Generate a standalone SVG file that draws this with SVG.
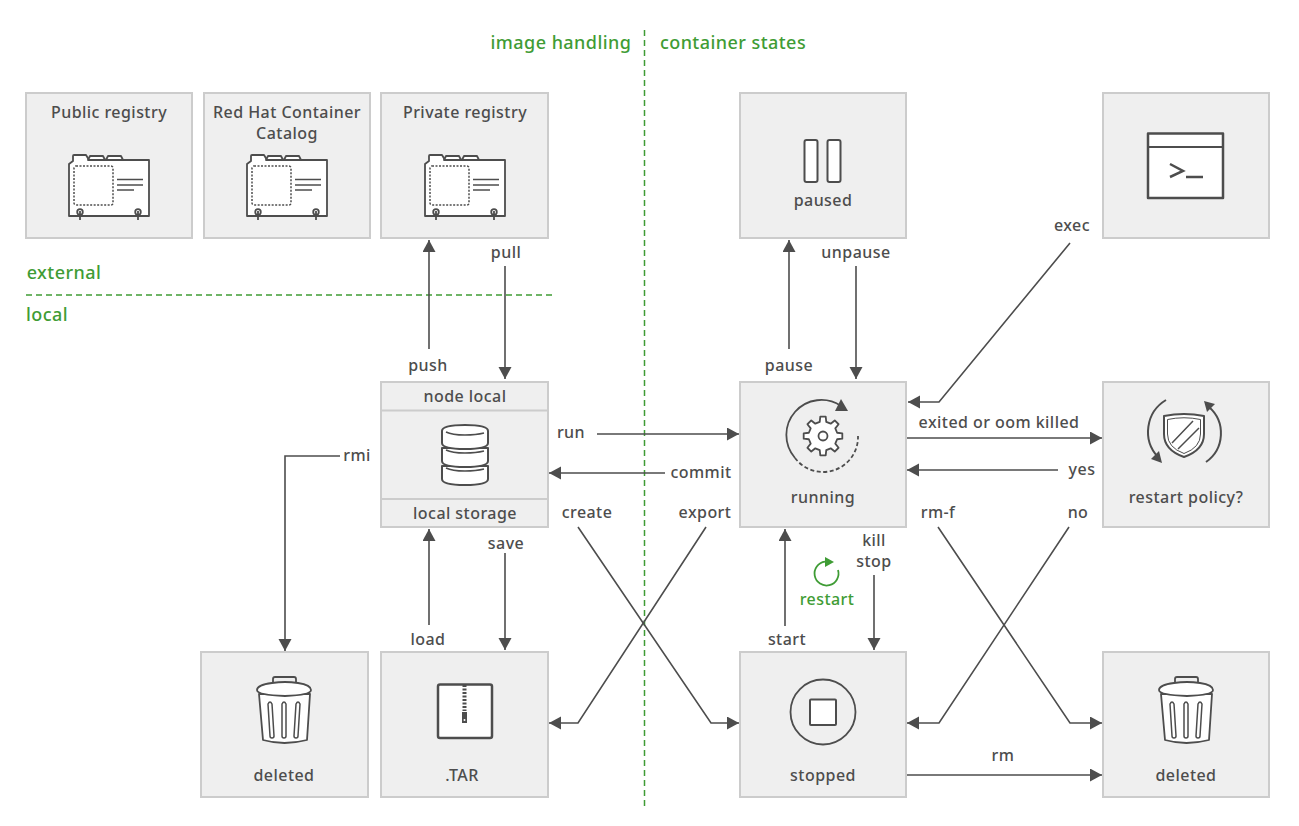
<svg xmlns="http://www.w3.org/2000/svg" width="1299" height="826" viewBox="0 0 1299 826">
<style>
text{font-family:"Noto Sans","Liberation Sans",sans-serif;font-size:16px;font-weight:500;fill:#4d4d4d;text-anchor:middle;letter-spacing:.45px}
.g{fill:#3f9c35;font-size:18px;font-weight:500}
.box{fill:#efefef;stroke:#ccc;stroke-width:2}
.c{fill:none;stroke:#4d4d4d;stroke-width:1.6}
.i{fill:#fff;stroke:#4d4d4d;stroke-width:2;stroke-linejoin:round}
.l{fill:none;stroke:#4d4d4d;stroke-width:2}
.d{fill:none;stroke:#3f9c35;stroke-width:1.5;stroke-dasharray:6 4}
</style>
<defs>
<marker id="a" markerUnits="userSpaceOnUse" markerWidth="14" markerHeight="14" refX="12" refY="6.5" orient="auto"><path d="M0 0L12 6.5L0 13Z" fill="#4d4d4d"/></marker>
<g id="reg">
<path class="i" d="M0 61V9L4 6V1Q4 0 5 0H17L20 5H80V61Z" style="stroke-width:1.800"/>
<path class="i" d="M19 5L21 1H34L36 5ZM37 5L39 1H52L54 5Z" style="stroke-width:1.800"/>
<rect x="5" y="11" width="39" height="39" rx="2" fill="#fff" stroke="#4d4d4d" stroke-width="1.500" stroke-dasharray="2 1.500"/>
<path class="l" d="M48 24.500H74M48 30H74M48 35H65" style="stroke-width:1.500"/>
<g id="rings" fill="none" stroke="#4d4d4d" stroke-width="1.800">
<circle cx="11" cy="57" r="2.800"/><path d="M11 56V65"/>
<circle cx="69" cy="57" r="2.800"/><path d="M69 56V65"/>
</g>
</g>
<g id="trash">
<path class="l" d="M-11 -4V-12Q-11 -14 -9 -14H10Q12 -14 12 -12V-4" style="stroke-width:1.800"/>
<path class="i" d="M-25 3L-21 49Q0 55 23 49L26 3Z" style="stroke-width:1.800"/>
<path class="i" d="M-27 -1Q-27 -6 -12 -8Q1 -10 14 -8Q27 -6 27 -1Q27 4 1 5Q-27 4 -27 -1Z" style="stroke-width:1.800"/>
<path class="l" d="M-16 13L-14 45a2 2 0 0 0 4 0L-12 13Q-14 9 -16 13ZM-2 13V45a2 2 0 0 0 4 0V13Q0 9 -2 13ZM12 13L10 45a2 2 0 0 0 4 0L16 13Q14 9 12 13Z" style="stroke-width:1.500"/>
</g>
</defs>

<g id="guides">
<path class="d" d="M644.500 30V810"/>
<path class="d" d="M26 295H552"/>
<text class="g" x="561" y="49">image handling</text>
<text class="g" x="733" y="49">container states</text>
<text class="g" x="64" y="279">external</text>
<text class="g" x="47" y="321">local</text>
</g>

<g id="connectors">
<path class="c" marker-end="url(#a)" d="M429 349V240"/>
<path class="c" marker-end="url(#a)" d="M505 266V379"/>
<path class="c" marker-end="url(#a)" d="M340 456H285V651"/>
<path class="c" marker-end="url(#a)" d="M597 434H739"/>
<path class="c" marker-end="url(#a)" d="M665 473H549"/>
<path class="c" marker-end="url(#a)" d="M578 527L711 723H739"/>
<path class="c" marker-end="url(#a)" d="M706 527L578 723H549"/>
<path class="c" marker-end="url(#a)" d="M429 625V529"/>
<path class="c" marker-end="url(#a)" d="M505 553V650"/>
<path class="c" marker-end="url(#a)" d="M789 349V240"/>
<path class="c" marker-end="url(#a)" d="M856 266V379"/>
<path class="c" marker-end="url(#a)" d="M1070 243L939 402H908"/>
<path class="c" marker-end="url(#a)" d="M906 438H1102"/>
<path class="c" marker-end="url(#a)" d="M1058 470H907"/>
<path class="c" marker-end="url(#a)" d="M785 626V529"/>
<path class="c" marker-end="url(#a)" d="M874 575V650"/>
<path class="c" marker-end="url(#a)" d="M938 527L1070 723H1102"/>
<path class="c" marker-end="url(#a)" d="M1069 527L939 723H907"/>
<path class="c" marker-end="url(#a)" d="M906 775H1102"/>
</g>

<g id="connector-labels">
<text x="428" y="371">push</text>
<text x="506" y="258">pull</text>
<text x="357" y="461">rmi</text>
<text x="571" y="438">run</text>
<text x="701" y="478">commit</text>
<text x="587" y="518">create</text>
<text x="705" y="518">export</text>
<text x="428" y="645">load</text>
<text x="506" y="549">save</text>
<text x="789" y="371">pause</text>
<text x="856" y="258">unpause</text>
<text x="1072" y="231">exec</text>
<text x="999" y="428">exited or oom killed</text>
<text x="1082" y="475">yes</text>
<text x="938" y="518">rm-f</text>
<text x="1078" y="518">no</text>
<text x="787" y="645">start</text>
<text x="874" y="546">kill</text>
<text x="874" y="567">stop</text>
<text x="1003" y="761">rm</text>
</g>

<g id="public-registry">
<rect class="box" x="26" y="93" width="166" height="145"/>
<text x="109" y="118">Public registry</text>
<use href="#reg" x="69" y="155"/>
</g>
<g id="red-hat-catalog">
<rect class="box" x="204" y="93" width="166" height="145"/>
<text x="287" y="118">Red Hat Container</text>
<text x="287" y="139">Catalog</text>
<use href="#reg" x="247" y="155"/>
</g>
<g id="private-registry">
<rect class="box" x="381" y="93" width="167" height="145"/>
<text x="465" y="118">Private registry</text>
<use href="#reg" x="425" y="155"/>
</g>

<g id="paused">
<rect class="box" x="740" y="93" width="166" height="145"/>
<rect class="i" x="804.500" y="140" width="13" height="42" rx="2"/>
<rect class="i" x="827.500" y="140" width="13" height="42" rx="2"/>
<text x="823" y="206">paused</text>
</g>

<g id="terminal">
<rect class="box" x="1103" y="93" width="166" height="145"/>
<rect class="i" x="1148" y="133.500" width="75" height="64.500" style="stroke-width:2.500"/>
<path class="l" d="M1148 147H1223"/>
<path class="l" d="M1170 164L1183 171L1170 177M1186 177H1203" style="stroke-width:2.500"/>
</g>

<g id="node-local">
<rect class="box" x="381" y="382" width="167" height="145"/>
<path d="M381 410.500H548M381 499H548" stroke="#ccc" stroke-width="2" fill="none"/>
<text x="465" y="402">node local</text>
<path class="i" d="M442 466V479Q442 485 465 485Q488 485 488 479V466Z"/>
<path class="i" d="M442 448V461Q442 467 465 467Q488 467 488 461V448Z"/>
<path class="i" d="M442 431V443Q442 449 465 449Q488 449 488 443V431Q488 425 465 425Q442 425 442 431Z"/>
<path class="l" d="M446 432Q452 435 465 435Q476 435 484 433M446 450Q452 453 465 453Q476 453 484 451M446 468Q452 471 465 471Q476 471 484 469" style="stroke-width:1.500"/>
<text x="465" y="519">local storage</text>
</g>

<g id="running">
<rect class="box" x="740" y="382" width="166" height="145"/>
<path class="c" d="M841 406A35 35 0 0 0 795 458" style="stroke-width:1.800"/>
<path class="c" d="M795 458A35 35 0 0 0 858 436" style="stroke-width:1.800;stroke-dasharray:4 2.500"/>
<path d="M848 411L835 411L841 399Z" fill="#4d4d4d"/>
<path class="i" transform="translate(823 436)" d="M19.31 -2.710L19.31 2.710L14.13 3.260L12.30 7.680L15.570 11.740L11.740 15.570L7.680 12.30L3.260 14.130L2.710 19.31L-2.710 19.31L-3.260 14.130L-7.680 12.30L-11.740 15.570L-15.570 11.740L-12.30 7.680L-14.13 3.260L-19.31 2.710L-19.31 -2.710L-14.13 -3.260L-12.30 -7.680L-15.570 -11.740L-11.740 -15.570L-7.680 -12.30L-3.260 -14.130L-2.710 -19.31L2.710 -19.31L3.260 -14.130L7.680 -12.30L11.740 -15.570L15.570 -11.740L12.30 -7.680L14.13 -3.260Z" style="stroke-width:1.800"/>
<circle class="i" cx="823" cy="436" r="4.500" style="stroke-width:1.800"/>
<text x="823" y="503">running</text>
</g>

<g id="restart-policy">
<rect class="box" x="1103" y="382" width="166" height="145"/>
<path class="c" d="M1166 400A37 37 0 0 0 1158 457" style="stroke-width:2"/>
<path d="M1162 463L1151 459L1159 451Z" fill="#4d4d4d"/>
<path class="c" d="M1206 462A35 35 0 0 0 1209 407" style="stroke-width:2"/>
<path d="M1204 401L1215 404L1207 412Z" fill="#4d4d4d"/>
<path class="i" d="M1164 416Q1184 412 1204 416V434Q1204 450 1184 457Q1164 450 1164 434Z"/>
<path d="M1167.500 419.500Q1184 416 1200.500 419.500V434Q1200.500 447.500 1184 453.500Q1167.500 447.500 1167.500 434Z" fill="none" stroke="#4d4d4d" stroke-width="1"/>
<path class="l" d="M1172 443L1193 421M1178 449L1199 428" style="stroke-width:1.500"/>
<text x="1186" y="503">restart policy?</text>
</g>

<g id="deleted-image">
<rect class="box" x="201" y="652" width="167" height="145"/>
<use href="#trash" x="284" y="691"/>
<text x="284" y="781">deleted</text>
</g>
<g id="tar">
<rect class="box" x="381" y="652" width="167" height="145"/>
<rect class="i" x="438" y="684.500" width="54" height="53.500" rx="2" style="stroke-width:2.500"/>
<path d="M464.500 685V711" stroke="#4d4d4d" stroke-width="4" stroke-dasharray="2 1.500" fill="none"/>
<rect x="462" y="712" width="5" height="11" fill="#4d4d4d"/>
<circle cx="464.500" cy="720" r="1" fill="#fff"/>
<text x="462" y="781">.TAR</text>
</g>
<g id="stopped">
<rect class="box" x="740" y="652" width="166" height="145"/>
<circle cx="823" cy="712" r="32.500" fill="none" stroke="#4d4d4d" stroke-width="1.800"/>
<rect class="i" x="810" y="699.500" width="26" height="25.500" rx="1"/>
<text x="823" y="781">stopped</text>
</g>
<g id="deleted-container">
<rect class="box" x="1103" y="652" width="166" height="145"/>
<use href="#trash" x="1186" y="691"/>
<text x="1186" y="781">deleted</text>
</g>
<g id="restart">
<path d="M825 561.600A12 12 0 1 0 838 570" fill="none" stroke="#3f9c35" stroke-width="1.800"/>
<path d="M825 557L834 562L825 567Z" fill="#3f9c35"/>
<text x="827" y="605" style="fill:#3f9c35;font-weight:500">restart</text>
</g>
</svg>
